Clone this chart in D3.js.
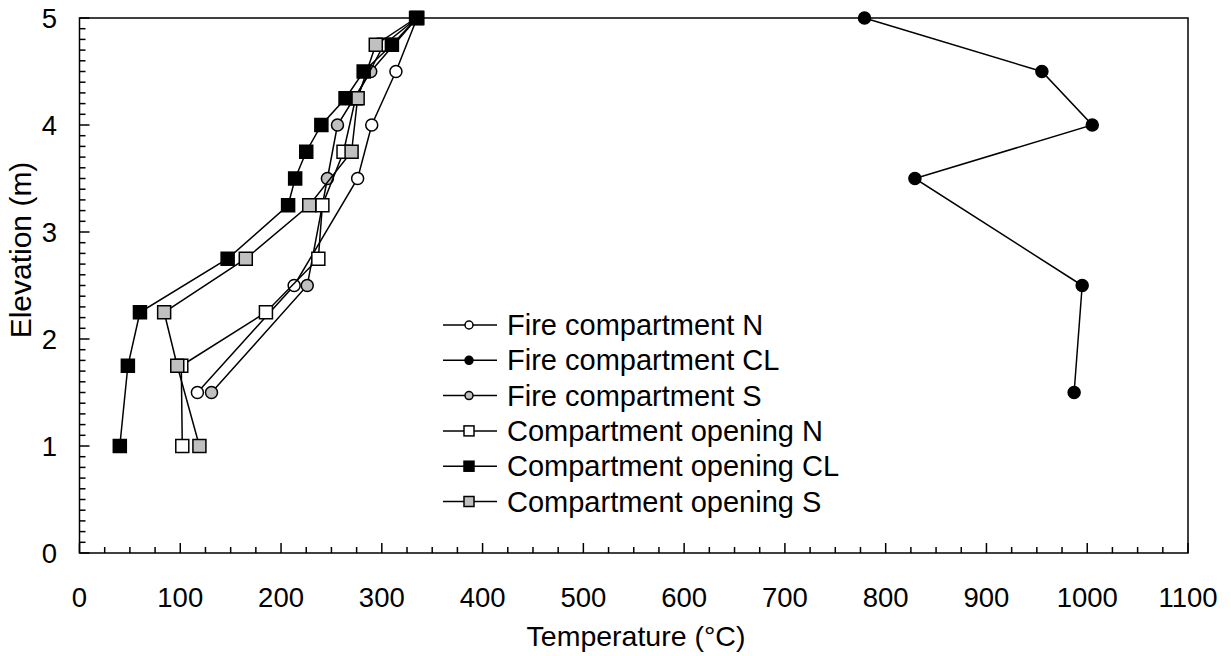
<!DOCTYPE html>
<html>
<head>
<meta charset="utf-8">
<script src="https://cdn.jsdelivr.net/npm/d3@7"></script>
<style>
  body { margin: 0; background: #fff; }
  text { font-family: "Liberation Sans", Arial, sans-serif; fill: #000; }
</style>
</head>
<body>
<div id="chart"></div>
<script>
// elevation (m) and temperature (°C) for every series
var fireN_elev  = [5, 4.5, 4, 3.5, 2.5, 1.5];
var fireN_temp  = [335, 314, 290, 276, 213, 117];
var fireCL_elev = [5, 4.5, 4, 3.5, 2.5, 1.5];
var fireCL_temp = [779, 955, 1005, 829, 995, 987];
var fireS_elev  = [5, 4.5, 4, 3.5, 2.5, 1.5];
var fireS_temp  = [335, 289, 256, 246, 226, 131];
var openN_elev  = [5, 4.75, 4.25, 3.75, 3.25, 2.75, 2.25, 1.75, 1];
var openN_temp  = [335, 302, 274, 262, 241, 237, 185, 101, 102];
var openCL_elev = [5, 4.75, 4.5, 4.25, 4, 3.75, 3.5, 3.25, 2.75, 2.25, 1.75, 1];
var openCL_temp = [335, 310, 282, 264, 240, 225, 214, 207, 147, 60, 48, 40];
var openS_elev  = [5, 4.75, 4.25, 3.75, 3.25, 2.75, 2.25, 1.75, 1];
var openS_temp  = [334, 294, 276, 270, 228, 165, 84, 97, 119];

var seriesNames = ["Fire compartment N", "Fire compartment CL", "Fire compartment S",
                   "Compartment opening N", "Compartment opening CL", "Compartment opening S"];
var xTicks = [0, 100, 200, 300, 400, 500, 600, 700, 800, 900, 1000, 1100];
var yTicks = [0, 1, 2, 3, 4, 5];

var series = [
    {name: seriesNames[0], shape: "circle", fill: "#fff",    temp: fireN_temp,  elev: fireN_elev},
    {name: seriesNames[1], shape: "circle", fill: "#000",    temp: fireCL_temp, elev: fireCL_elev},
    {name: seriesNames[2], shape: "circle", fill: "#c0c0c0", temp: fireS_temp,  elev: fireS_elev},
    {name: seriesNames[3], shape: "square", fill: "#fff",    temp: openN_temp,  elev: openN_elev},
    {name: seriesNames[4], shape: "square", fill: "#000",    temp: openCL_temp, elev: openCL_elev},
    {name: seriesNames[5], shape: "square", fill: "#c0c0c0", temp: openS_temp,  elev: openS_elev}
];
// draw order: black opening squares last so they sit on top at 5 m
var drawOrder = [0, 1, 2, 3, 5, 4];

var width = 1231, height = 656;
var plotLeft = 79.5, plotRight = 1188, plotTop = 18, plotBottom = 553;

var svg = d3.select("#chart").append("svg")
    .attr("width", width)
    .attr("height", height);

var x = d3.scaleLinear().domain([0, 1100]).range([plotLeft, plotRight]);
var y = d3.scaleLinear().domain([0, 5]).range([plotBottom, plotTop]);

// frame
svg.append("rect")
    .attr("x", plotLeft).attr("y", plotTop)
    .attr("width", plotRight - plotLeft).attr("height", plotBottom - plotTop)
    .attr("fill", "none").attr("stroke", "#000").attr("stroke-width", 1.5);

// x axis ticks (inside, pointing up)
var xMinor = d3.range(0, 1101, 25);
svg.append("g").selectAll("line")
    .data(xMinor)
    .join("line")
    .attr("x1", d => x(d)).attr("x2", d => x(d))
    .attr("y1", plotBottom).attr("y2", d => plotBottom - (d % 100 === 0 ? 10 : 6))
    .attr("stroke", "#000").attr("stroke-width", 1.5);
svg.append("g").selectAll("text")
    .data(xTicks)
    .join("text")
    .attr("x", d => x(d)).attr("y", 607)
    .attr("text-anchor", "middle")
    .attr("font-size", 27.5)
    .text(d => d);

// y axis ticks (inside, pointing right)
var yMinor = d3.range(0, 51).map(d => d / 10);
svg.append("g").selectAll("line")
    .data(yMinor)
    .join("line")
    .attr("y1", d => y(d)).attr("y2", d => y(d))
    .attr("x1", plotLeft).attr("x2", (d, i) => plotLeft + (i % 10 === 0 ? 10 : 6))
    .attr("stroke", "#000").attr("stroke-width", 1.5);
svg.append("g").selectAll("text")
    .data(yTicks)
    .join("text")
    .attr("x", 57).attr("y", d => y(d))
    .attr("text-anchor", "end")
    .attr("dominant-baseline", "central")
    .attr("font-size", 27.5)
    .text(d => d);

// axis titles
svg.append("text")
    .attr("x", 636).attr("y", 646)
    .attr("text-anchor", "middle")
    .attr("font-size", 28.5)
    .text("Temperature (°C)");
svg.append("text")
    .attr("transform", "translate(31,250) rotate(-90)")
    .attr("text-anchor", "middle")
    .attr("font-size", 30)
    .text("Elevation (m)");

// lines and markers
var line = d3.line()
    .x(d => x(d[0]))
    .y(d => y(d[1]));

function drawMarker(g, shape, fill, size) {
    if (shape === "circle") {
        g.append("circle").attr("r", size / 2)
            .attr("fill", fill).attr("stroke", "#000").attr("stroke-width", 1.5);
    } else {
        g.append("rect")
            .attr("x", -size / 2).attr("y", -size / 2)
            .attr("width", size).attr("height", size)
            .attr("fill", fill).attr("stroke", "#000").attr("stroke-width", 1.5);
    }
}

var plot = svg.append("g");
drawOrder.forEach(function (k) {
    var s = series[k];
    var pts = s.temp.map((t, i) => [t, s.elev[i]]);
    var g = plot.append("g");
    g.append("path")
        .attr("d", line(pts))
        .attr("fill", "none")
        .attr("stroke", "#000")
        .attr("stroke-width", 1.5);
    pts.forEach(function (p) {
        var m = g.append("g").attr("transform", "translate(" + x(p[0]) + "," + y(p[1]) + ")");
        drawMarker(m, s.shape, s.fill, s.shape === "circle" ? 12 : 13);
    });
});

// legend
var legend = svg.append("g").attr("transform", "translate(443,325)");
series.forEach(function (s, i) {
    var row = legend.append("g").attr("transform", "translate(0," + (i * 35.3) + ")");
    row.append("line")
        .attr("x1", 0).attr("x2", 54)
        .attr("stroke", "#000").attr("stroke-width", 1.5);
    var m = row.append("g").attr("transform", "translate(26,0)");
    drawMarker(m, s.shape, s.fill, s.shape === "circle" ? 8 : 10);
    row.append("text")
        .attr("x", 64).attr("y", 0)
        .attr("dominant-baseline", "central")
        .attr("font-size", 29)
        .text(s.name);
});
</script>
</body>
</html>
